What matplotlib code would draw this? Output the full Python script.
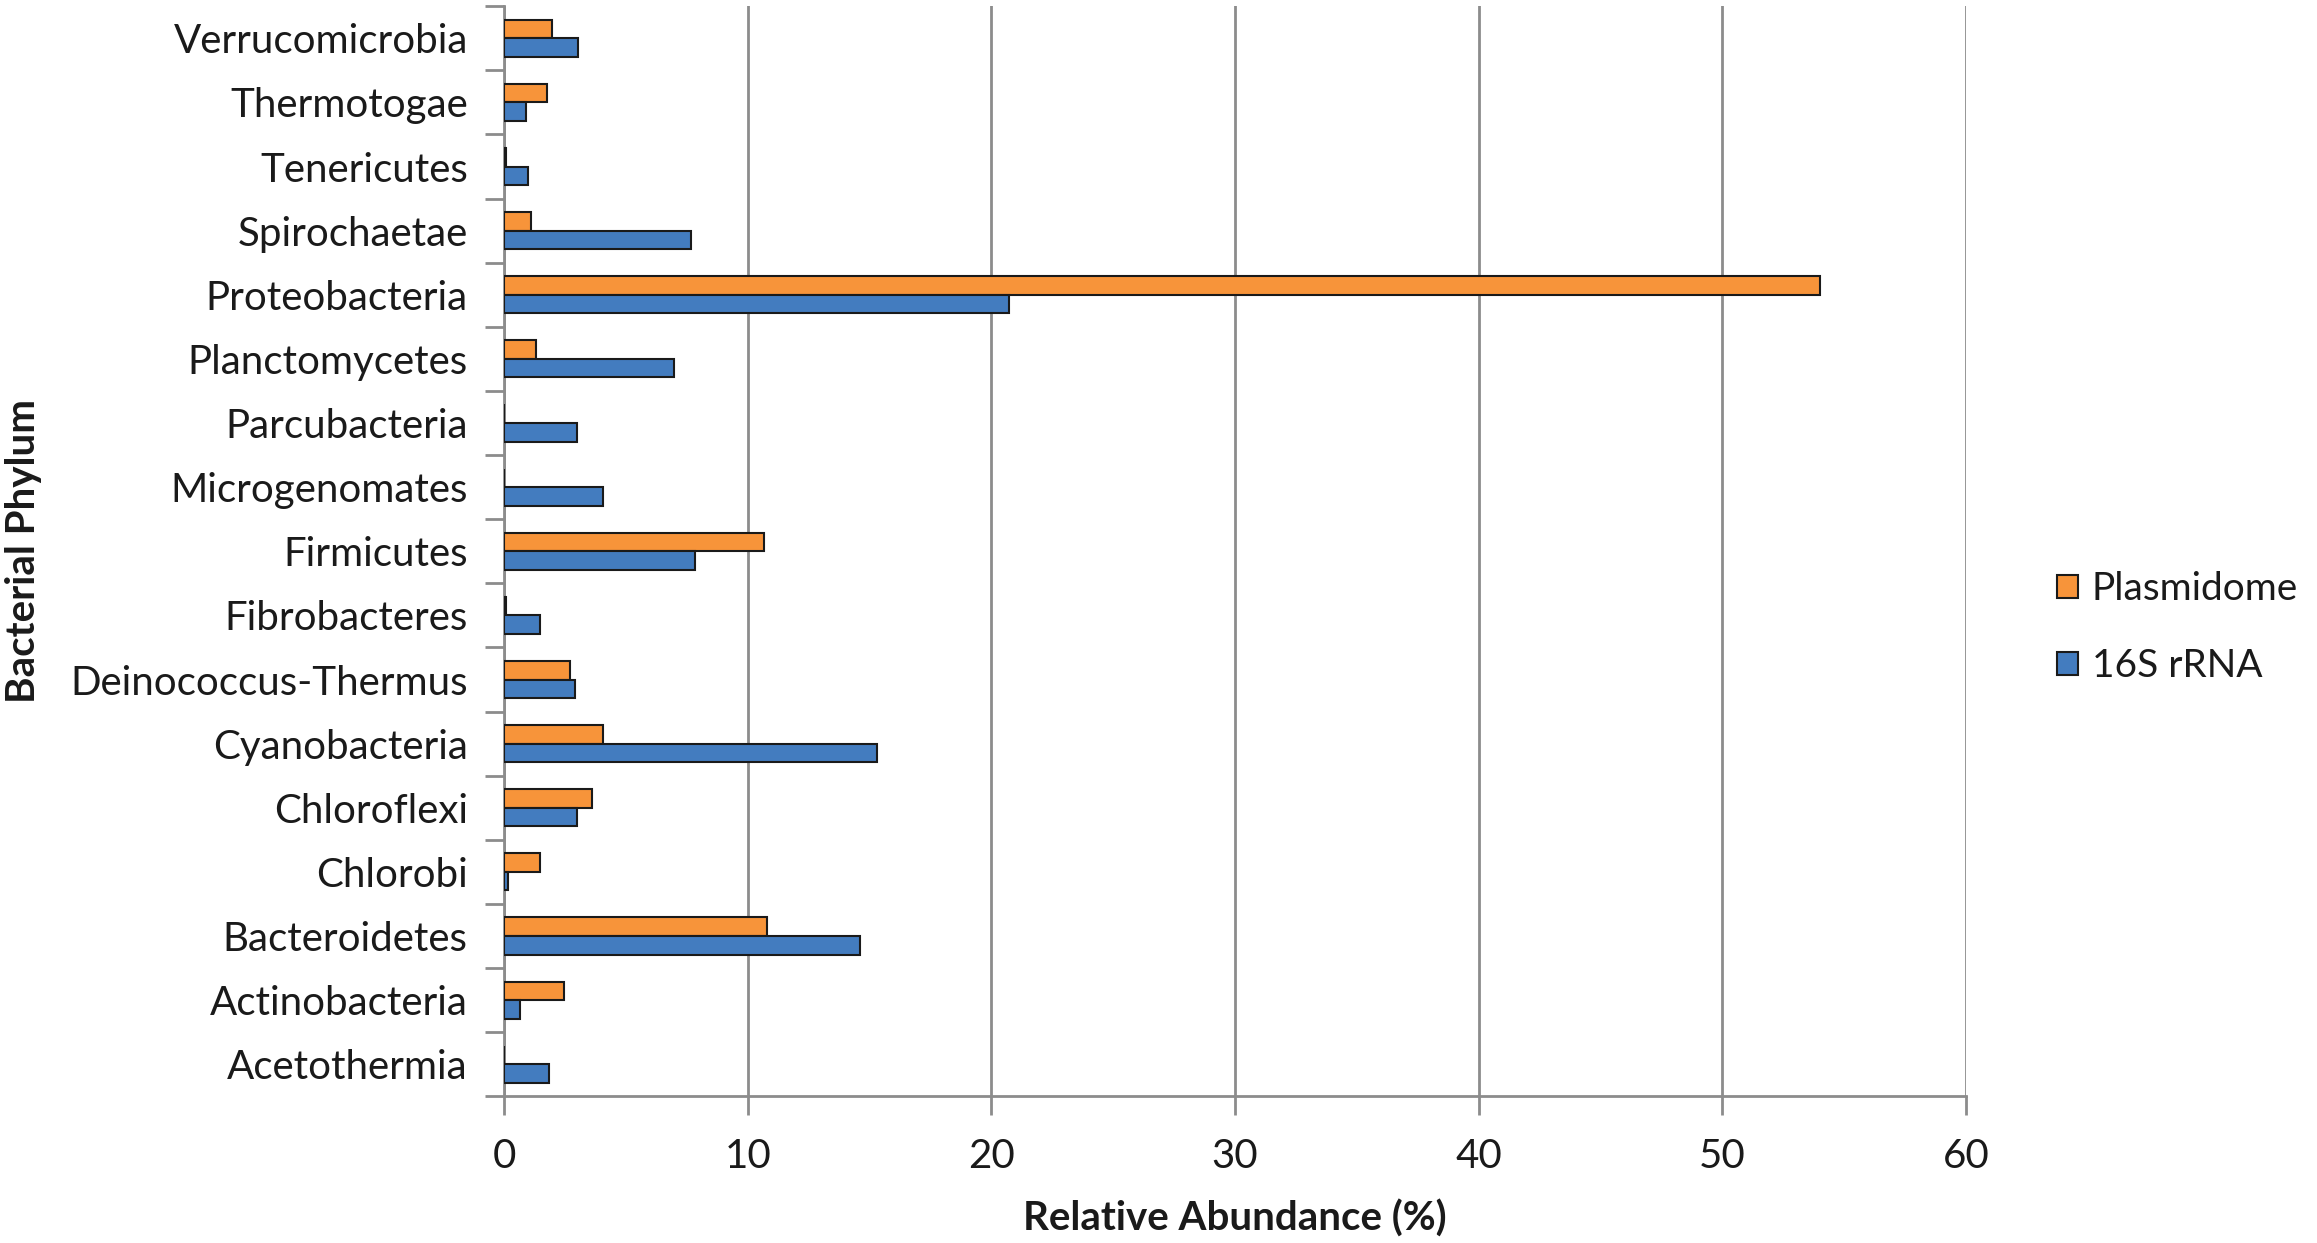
import numpy as np
import matplotlib
matplotlib.use('Agg')
import matplotlib.pyplot as plt

plt.rcParams['font.family'] = ['Lato', 'DejaVu Sans']

phyla = ['Acetothermia', 'Actinobacteria', 'Bacteroidetes', 'Chlorobi', 'Chloroflexi',
         'Cyanobacteria', 'Deinococcus-Thermus', 'Fibrobacteres', 'Firmicutes',
         'Microgenomates', 'Parcubacteria', 'Planctomycetes', 'Proteobacteria',
         'Spirochaetae', 'Tenericutes', 'Thermotogae', 'Verrucomicrobia']
plasmidome = [0.0, 2.48, 10.81, 1.5, 3.63, 4.05, 2.7, 0.07, 10.68,
              0.0, 0.0, 1.33, 54.0, 1.13, 0.07, 1.77, 1.97]
rrna16s = [1.86, 0.64, 14.61, 0.15, 3.0, 15.32, 2.9, 1.5, 7.84,
           4.05, 3.0, 6.98, 20.73, 7.69, 0.99, 0.91, 3.05]
xticks = [0, 10, 20, 30, 40, 50, 60]

orange = '#F7943A'
blue = '#437CBF'
grey = '#8C8C8C'
txt = '#1a1a1a'
fs = 29

fig = plt.figure(figsize=(23.17, 12.43), dpi=100)
ax = fig.add_axes([0.2175, 0.118, 0.631, 0.877])

y = np.arange(len(phyla))
h = 0.29
ax.barh(y + h/2, plasmidome, height=h, color=orange, edgecolor=txt, linewidth=1.5,
        label='Plasmidome', zorder=3)
ax.barh(y - h/2, rrna16s, height=h, color=blue, edgecolor=txt, linewidth=1.5,
        label='16S rRNA', zorder=3)

ax.set_xlim(0, 60)
ax.set_ylim(-0.5, len(phyla) - 0.5)
ax.set_xticks(xticks)
ax.set_xticklabels([str(t) for t in xticks])
ax.xaxis.grid(True, color=grey, linewidth=2, zorder=0)

# boundary ticks between categories, labels at centres
ax.set_yticks(np.arange(-0.5, len(phyla), 1.0))
ax.set_yticklabels([])
ax.set_yticks(y, minor=True)
ax.set_yticklabels(phyla, minor=True)
ax.tick_params(axis='y', which='major', length=14, width=2, color=grey)
ax.tick_params(axis='y', which='minor', length=0, pad=26, labelsize=fs, labelcolor=txt)
ax.tick_params(axis='x', length=14, width=2, color=grey, pad=16, labelsize=fs,
               labelcolor=txt)

for s in ['top', 'right']:
    ax.spines[s].set_visible(False)
for s in ['left', 'bottom']:
    ax.spines[s].set_color(grey)
    ax.spines[s].set_linewidth(2)

ax.set_xlabel('Relative Abundance (%)', fontsize=fs, fontweight='bold', color=txt,
              labelpad=18)
fig.text(0.01, 0.557, 'Bacterial Phylum', rotation=90, fontsize=fs, fontweight='bold',
         color=txt, ha='center', va='center')

ax.legend(loc='center left', bbox_to_anchor=(1.038, 0.43), frameon=False, fontsize=28,
          handlelength=0.55, handleheight=0.55, handletextpad=0.35, labelspacing=1.05,
          labelcolor=txt)

fig.savefig('out.png', dpi=100)
